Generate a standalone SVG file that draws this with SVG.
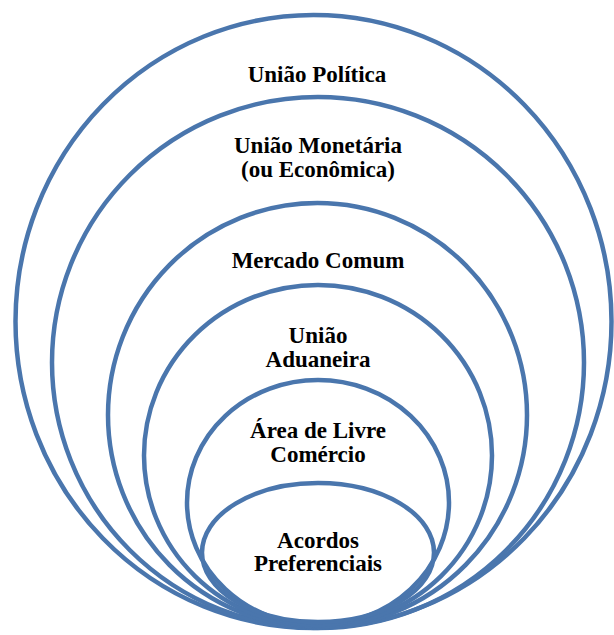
<svg xmlns="http://www.w3.org/2000/svg" width="614" height="635" viewBox="0 0 614 635">
<style>
  .ring { fill: none; stroke: #4a76ad; stroke-width: 4.5; }
  .lbl { font-family: 'Liberation Serif', Tinos, 'Times New Roman', Times, 'DejaVu Serif', serif; font-weight: 700; font-size: 23px; fill: #000; text-anchor: middle; }
</style>
<rect width="614" height="635" fill="#fff"/>
<g id="uniao-politica">
  <ellipse class="ring" cx="313.5" cy="321.5" rx="298" ry="306.5"/>
  <text class="lbl" x="317" y="82">União Política</text>
</g>
<g id="uniao-monetaria">
  <ellipse class="ring" cx="318" cy="362.5" rx="266" ry="265.5"/>
  <text class="lbl" x="318" y="153">União Monetária</text>
  <text class="lbl" x="318" y="177">(ou Econômica)</text>
</g>
<g id="mercado-comum">
  <ellipse class="ring" cx="317.5" cy="415" rx="209.5" ry="212"/>
  <text class="lbl" x="318" y="268">Mercado Comum</text>
</g>
<g id="uniao-aduaneira">
  <ellipse class="ring" cx="318" cy="455.5" rx="174" ry="170.5"/>
  <text class="lbl" x="318" y="343">União</text>
  <text class="lbl" x="318" y="367">Aduaneira</text>
</g>
<g id="area-livre-comercio">
  <ellipse class="ring" cx="318" cy="502.5" rx="131" ry="122.5"/>
  <text class="lbl" x="318" y="438">Área de Livre</text>
  <text class="lbl" x="318" y="462">Comércio</text>
</g>
<g id="acordos-preferenciais">
  <ellipse class="ring" cx="318" cy="552.5" rx="116" ry="69.5"/>
  <text class="lbl" x="318" y="547.5">Acordos</text>
  <text class="lbl" x="318" y="571">Preferenciais</text>
</g>
<g id="connectors"></g>
</svg>
